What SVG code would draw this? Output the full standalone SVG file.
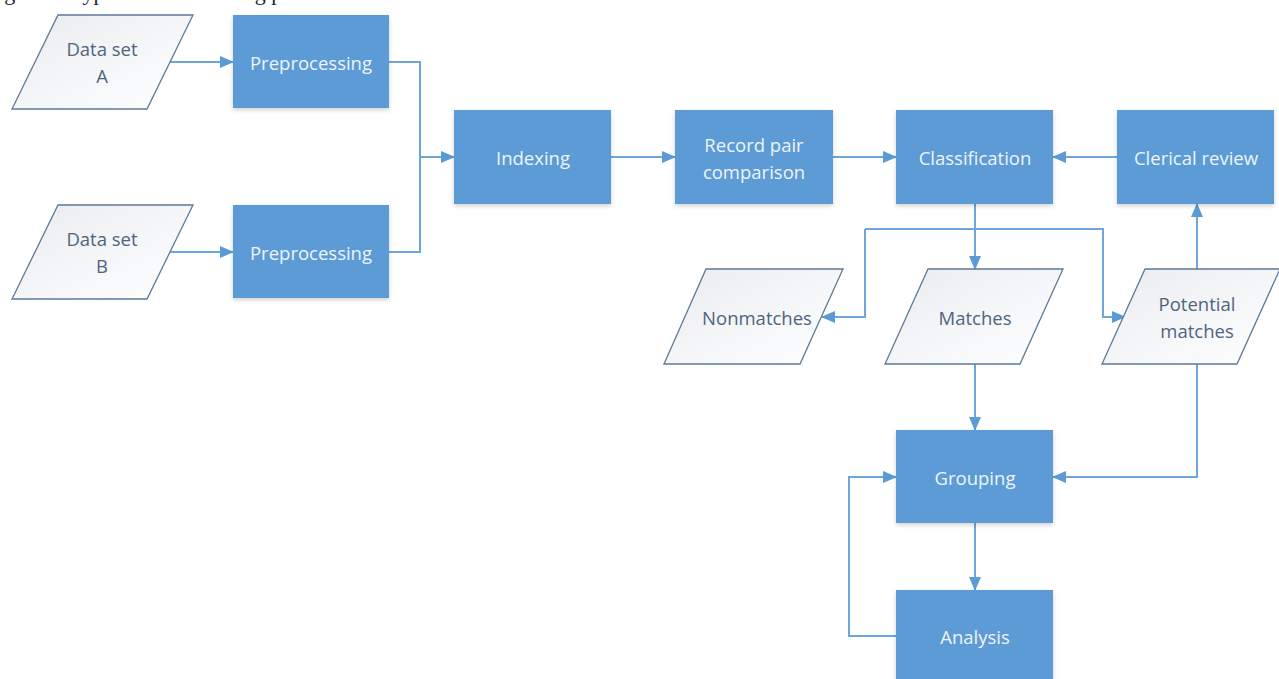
<svg xmlns="http://www.w3.org/2000/svg" width="1279" height="679" viewBox="0 0 1279 679">
<style>
.box{fill:#5B9BD5;filter:url(#sh)}
.para{fill:url(#pg);stroke:#5D7A96;stroke-width:1.3}
.bt{font-family:"Open Sans","Noto Sans",sans-serif;font-size:18.5px;fill:#EEF4FB;text-anchor:middle;dominant-baseline:central}
.pt{font-family:"Open Sans","Noto Sans",sans-serif;font-size:18.5px;fill:#4F6480;text-anchor:middle;dominant-baseline:central}
.cn{fill:none;stroke:#6FA6DA;stroke-width:2}
.cap{font-family:"Liberation Serif",serif;font-size:22px;fill:#222}
</style>
<defs>
<linearGradient id="pg" x1="0" y1="0" x2="1" y2="1">
<stop offset="0" stop-color="#E9ECF0"/><stop offset="1" stop-color="#FFFFFF"/>
</linearGradient>
<filter id="sh" x="-10%" y="-10%" width="120%" height="130%">
<feDropShadow dx="0" dy="2" stdDeviation="2" flood-color="#000" flood-opacity="0.18"/>
</filter>
<marker id="ar" markerWidth="14" markerHeight="12" refX="13" refY="6" orient="auto" markerUnits="userSpaceOnUse">
<path d="M0,0 L14,6 L0,12 z" fill="#5B9BD5"/>
</marker>
</defs>
<text class="cap" x="-14" y="0">Figure 1. Typical data matching process.</text>
<g id="connectors">
<path class="cn" d="M170,62 H233" marker-end="url(#ar)"/>
<path class="cn" d="M170,252 H233" marker-end="url(#ar)"/>
<path class="cn" d="M389,62 H420 V252 H389"/>
<path class="cn" d="M420,157 H454" marker-end="url(#ar)"/>
<path class="cn" d="M611,157 H675" marker-end="url(#ar)"/>
<path class="cn" d="M833,157 H896" marker-end="url(#ar)"/>
<path class="cn" d="M1117,157 H1053" marker-end="url(#ar)"/>
<path class="cn" d="M975,204 V269" marker-end="url(#ar)"/>
<path class="cn" d="M865,229 H1103 V317 H1125" marker-end="url(#ar)"/>
<path class="cn" d="M865,229 V317 H822" marker-end="url(#ar)"/>
<path class="cn" d="M1197,269 V204" marker-end="url(#ar)"/>
<path class="cn" d="M975,364 V430" marker-end="url(#ar)"/>
<path class="cn" d="M1197,364 V477 H1053" marker-end="url(#ar)"/>
<path class="cn" d="M975,523 V590" marker-end="url(#ar)"/>
<path class="cn" d="M896,636 H849 V477 H896" marker-end="url(#ar)"/>
</g>
<g id="dataA"><path class="para" d="M58,15 H193 L147,109 H12 Z"/><text class="pt" x="102" y="48">Data set</text><text class="pt" x="102" y="75">A</text></g>
<g id="prepA"><rect class="box" x="233" y="15" width="156" height="93"/><text class="bt" x="311" y="62">Preprocessing</text></g>
<g id="dataB"><path class="para" d="M58,205 H193 L147,299 H12 Z"/><text class="pt" x="102" y="238">Data set</text><text class="pt" x="102" y="265">B</text></g>
<g id="prepB"><rect class="box" x="233" y="205" width="156" height="93"/><text class="bt" x="311" y="252">Preprocessing</text></g>
<g id="indexing"><rect class="box" x="454" y="110" width="157" height="94"/><text class="bt" x="533" y="157">Indexing</text></g>
<g id="recordpair"><rect class="box" x="675" y="110" width="158" height="94"/><text class="bt" x="754" y="144">Record pair</text><text class="bt" x="754" y="171">comparison</text></g>
<g id="classification"><rect class="box" x="896" y="110" width="157" height="94"/><text class="bt" x="975" y="157">Classification</text></g>
<g id="clerical"><rect class="box" x="1117" y="110" width="157" height="94"/><text class="bt" x="1196" y="157">Clerical review</text></g>
<g id="nonmatches"><path class="para" d="M706,269 H843 L800,364 H664 Z"/><text class="pt" x="757" y="317">Nonmatches</text></g>
<g id="matches"><path class="para" d="M928,269 H1063 L1020,364 H885 Z"/><text class="pt" x="975" y="317">Matches</text></g>
<g id="potential"><path class="para" d="M1145,269 H1280 L1237,364 H1102 Z"/><text class="pt" x="1197" y="303">Potential</text><text class="pt" x="1197" y="330">matches</text></g>
<g id="grouping"><rect class="box" x="896" y="430" width="157" height="93"/><text class="bt" x="975" y="477">Grouping</text></g>
<g id="analysis"><rect class="box" x="896" y="590" width="157" height="100"/><text class="bt" x="975" y="636">Analysis</text></g>
</svg>
